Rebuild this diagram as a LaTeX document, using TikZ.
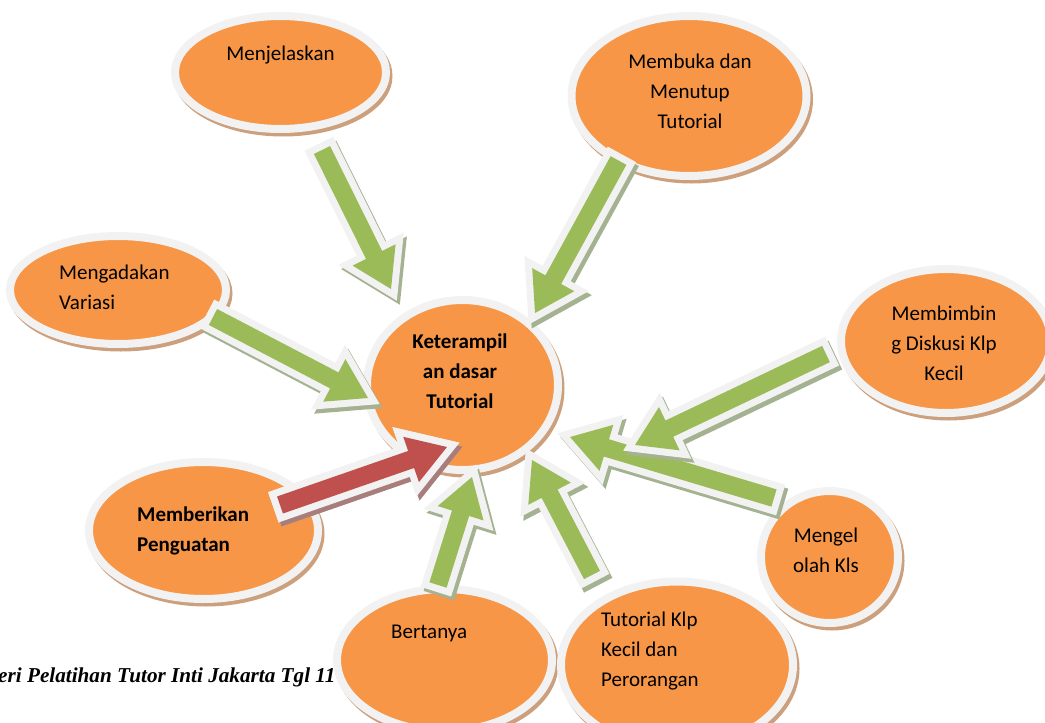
\documentclass[tikz,border=0pt]{standalone}
\usepackage{fontspec}
\setmainfont{Carlito}
\newfontfamily\capfont{Liberation Serif}
\usetikzlibrary{shapes.geometric,calc}

\definecolor{bubbleorange}{RGB}{247,150,70}
\definecolor{ringgray}{RGB}{242,242,242}
\definecolor{bubbleshadow}{RGB}{205,160,125}
\definecolor{arrowgreen}{RGB}{155,187,89}
\definecolor{greenshadow}{RGB}{165,178,145}
\definecolor{arrowred}{RGB}{192,80,77}
\definecolor{redshadow}{RGB}{170,125,125}

\tikzset{
  bubble/.style={ellipse, inner sep=0pt, fill=bubbleorange, draw=ringgray, line width=8pt,
    preaction={draw=bubbleshadow, fill=bubbleshadow, line width=8pt,
      transform canvas={shift={(2.5pt,-3.5pt)}}}},
  txt/.style={font=\fontsize{21}{30}\selectfont, inner sep=0pt},
  fat/.style={to path={
    ($(\tikztostart)!9pt!90:(\tikztotarget)$)
    -- ($(\tikztotarget)!38pt!(\tikztostart)!9pt!-90:(\tikztostart)$)
    -- ($(\tikztotarget)!38pt!(\tikztostart)!24pt!-90:(\tikztostart)$)
    -- (\tikztotarget)
    -- ($(\tikztotarget)!38pt!(\tikztostart)!24pt!90:(\tikztostart)$)
    -- ($(\tikztotarget)!38pt!(\tikztostart)!9pt!90:(\tikztostart)$)
    -- ($(\tikztostart)!9pt!-90:(\tikztotarget)$)
    -- cycle}},
  greenarrow/.style={fill=arrowgreen,
    preaction={draw=greenshadow, fill=greenshadow, line width=14pt,
      transform canvas={shift={(3pt,-4pt)}}},
    preaction={draw=ringgray, fill=ringgray, line width=14pt}},
  redarrow/.style={greenarrow, fill=arrowred,
    preaction={draw=redshadow, fill=redshadow, line width=14pt,
      transform canvas={shift={(3pt,-4pt)}}},
    preaction={draw=ringgray, fill=ringgray, line width=14pt}}
}

\begin{document}
\begin{tikzpicture}[x=1pt, y=-1pt]
	\useasboundingbox (0,0) rectangle (1045,723);
	% caption line under the bubbles
	\node[font=\capfont\bfseries\itshape\fontsize{21.2}{25}\selectfont, anchor=base west, inner sep=0pt]
		(caption) at (-2,682) {eri Pelatihan Tutor Inti Jakarta Tgl 11};

	% bubbles
	\node[bubble, minimum width=211, minimum height=113] (jelas) at (280.5,72.5) {};
	\node[bubble, minimum width=235, minimum height=160] (buka) at (689,96) {};
	\node[bubble, minimum width=216, minimum height=108] (variasi) at (118,290) {};
	\node[bubble, minimum width=191, minimum height=170] (dasar) at (462.5,385) {};
	\node[bubble, minimum width=210, minimum height=144] (bimbing) at (946,341) {};
	\node[bubble, minimum width=229, minimum height=137] (kuat) at (203.5,530.5) {};
	\node[bubble, minimum width=137, minimum height=132] (kelola) at (829.5,557) {};
	\node[bubble, minimum width=215, minimum height=142] (tanya) at (444.5,660) {};
	\node[bubble, minimum width=232, minimum height=167] (kecil) at (677,665) {};

	% texts
	\node[txt] (jelas-t) at (280.5,55) {Menjelaskan};
	\node[txt, align=center] (buka-t) at (690,91) {Membuka dan\\Menutup\\Tutorial};
	\node[txt, align=left, anchor=west] (variasi-t) at (59,287) {Mengadakan\\Variasi};
	\node[txt, align=center, font=\fontsize{21}{30}\selectfont\bfseries] (dasar-t) at (460,371) {Keterampil\\an dasar\\Tutorial};
	\node[txt, align=center] (bimbing-t) at (944,343) {Membimbin\\g Diskusi Klp\\Kecil};
	\node[txt, align=left, anchor=west, font=\fontsize{21}{30}\selectfont\bfseries] (kuat-t) at (137,531) {Memberikan\\Penguatan};
	\node[txt, align=center] (kelola-t) at (826,550) {Mengel\\olah Kls};
	\node[txt, anchor=west] (tanya-t) at (391,633) {Bertanya};
	\node[txt, align=left, anchor=west] (kecil-t) at (601,651) {Tutorial Klp\\Kecil dan\\Perorangan};

	% arrow ends
	\coordinate (t1) at (322,150);   \coordinate (h1) at (391,289);
	\coordinate (t2) at (618.5,160.5); \coordinate (h2) at (535,313);
	\coordinate (t3) at (213,317);   \coordinate (h3) at (368,398);
	\coordinate (t4) at (826,354);   \coordinate (h4) at (635,445);
	\coordinate (t5) at (774,498);   \coordinate (h5) at (570,437);
	\coordinate (t6) at (280,505);   \coordinate (h6) at (447,447);
	\coordinate (t7) at (438,585);   \coordinate (h7) at (472,477);
	\coordinate (t8) at (592,575);   \coordinate (h8) at (532,460);

	% arrows
	\path[greenarrow] (t1) to[fat] (h1);
	\path[greenarrow] (t2) to[fat] (h2);
	\path[greenarrow] (t3) to[fat] (h3);
	\path[greenarrow] (t5) to[fat] (h5);
	\path[greenarrow] (t4) to[fat] (h4);
	\path[redarrow] (t6) to[fat] (h6);
	\path[greenarrow] (t7) to[fat] (h7);
	\path[greenarrow] (t8) to[fat] (h8);
\end{tikzpicture}
\end{document}
